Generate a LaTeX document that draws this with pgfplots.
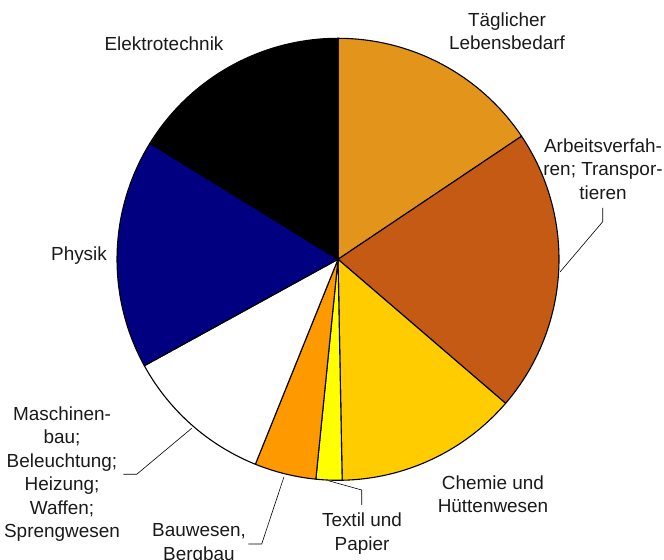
\documentclass[border=0pt]{standalone}
\usepackage{pgfplots}
\usepackage{pgfplotstable}
\pgfplotsset{compat=1.18}
\usepackage{fontspec}
\setmainfont{Liberation Sans}
\definecolor{c0}{HTML}{E3941A}
\definecolor{c1}{HTML}{C55A14}
\definecolor{c2}{HTML}{FFCC00}
\definecolor{c3}{HTML}{FFFF00}
\definecolor{c4}{HTML}{FF9900}
\definecolor{c5}{HTML}{FFFFFF}
\definecolor{c6}{HTML}{000080}
\definecolor{c7}{HTML}{000000}
\definecolor{txt}{HTML}{1A1A1A}
% shares in percent, clockwise from 12 o'clock
\pgfplotstableread{
pct
15.6
20.7
13.4
1.9
4.5
10.9
16.8
16.2
}\piedata
\begin{document}
\begin{tikzpicture}
\begin{axis}[hide axis, scale only axis, width=664bp, height=560bp,
  xmin=0, xmax=664, ymin=0, ymax=560, y dir=reverse, clip=false]
\tikzset{lab/.style={align=center, text=txt, font=\fontsize{19}{23.5}\selectfont, inner sep=0pt}}
\node[lab] at (axis cs:507,31) {Täglicher\\Lebensbedarf};
\node[lab] at (axis cs:603,169) {Arbeitsverfah-\\ren; Transpor-\\tieren};
\node[lab] at (axis cs:493,494) {Chemie und\\Hüttenwesen};
\node[lab] at (axis cs:362,533.5) {Textil und\\Papier};
\node[lab] at (axis cs:199,544) {Bauwesen,\\Bergbau};
\node[lab] at (axis cs:62,474) {Maschinen-\\bau;\\Beleuchtung;\\Heizung;\\Waffen;\\Sprengwesen};
\node[lab] at (axis cs:79,256) {Physik};
\node[lab] at (axis cs:164,44) {Elektrotechnik};
\draw[line width=0.6bp] (axis cs:560,272) -- (axis cs:602.7,221.7) -- (axis cs:602.7,208);
\draw[line width=0.6bp] (axis cs:191.7,428.3) -- (axis cs:136.7,474.3) -- (axis cs:123.3,474.3);
\draw[line width=0.6bp] (axis cs:284,476.7) -- (axis cs:261.7,544) -- (axis cs:248.3,544);
\draw[line width=0.6bp] (axis cs:328.3,480.7) -- (axis cs:361.7,490) -- (axis cs:361.7,505);
\coordinate (C) at (axis cs:338,259.3);
\coordinate (BL) at (axis cs:0,560);
\coordinate (TR) at (axis cs:664,0);
\end{axis}
\gdef\cum{0}
\foreach \i/\col in {0/c0,1/c1,2/c2,3/c3,4/c4,5/c5,6/c6,7/c7} {
  \pgfplotstablegetelem{\i}{pct}\of\piedata
  \let\p\pgfplotsretval
  \pgfmathsetmacro\aS{90-3.6*\cum}
  \pgfmathsetmacro\aE{90-3.6*(\cum+\p)}
  \filldraw[fill=\col, draw=black, line width=1.1bp, line join=round]
    (C) -- ++(\aS:221bp) arc[start angle=\aS, end angle=\aE, radius=221bp] -- cycle;
  \pgfmathsetmacro\newcum{\cum+\p}
  \xdef\cum{\newcum}
}
\pgfresetboundingbox
\useasboundingbox (BL) rectangle (TR);
\end{tikzpicture}
\end{document}
